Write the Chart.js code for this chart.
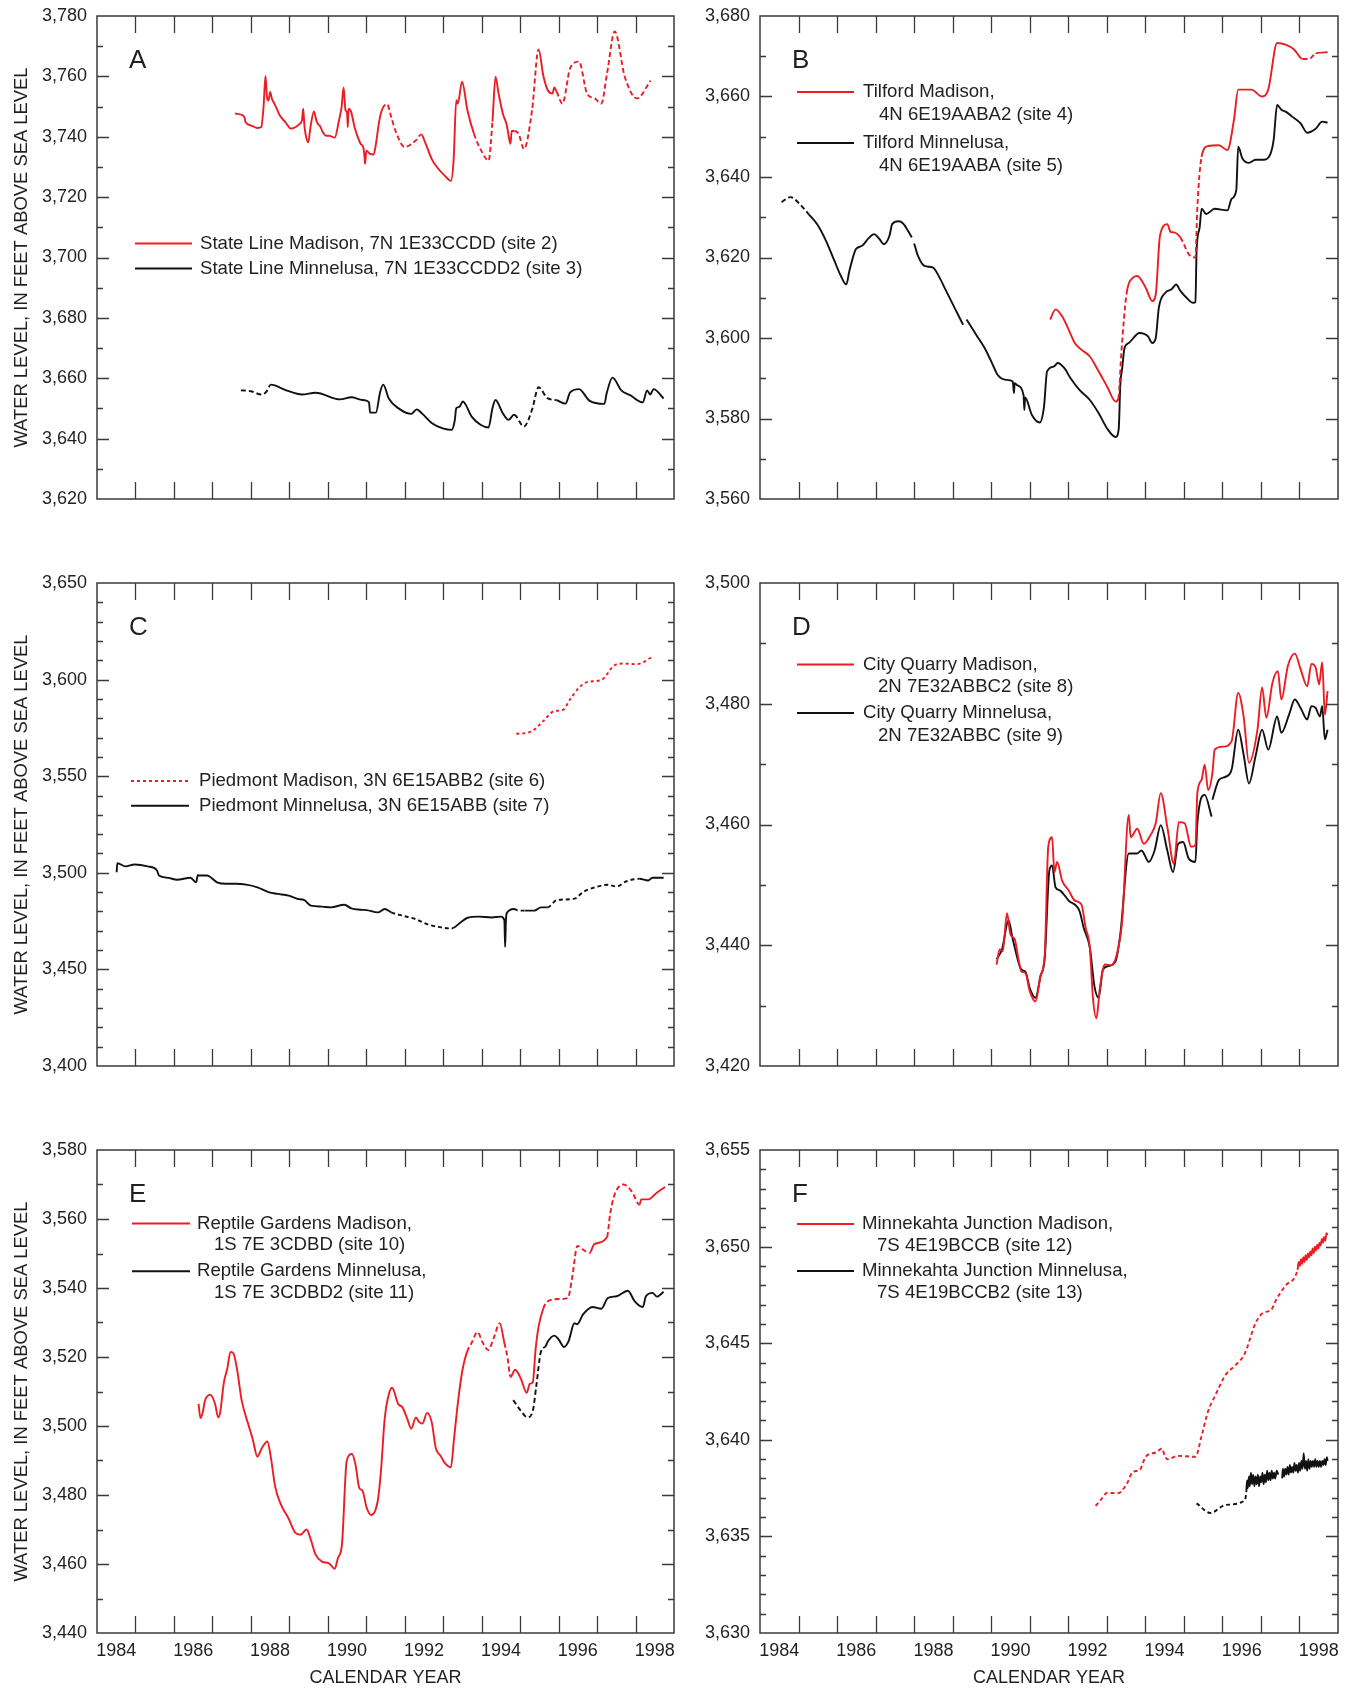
<!DOCTYPE html>
<html>
<head>
<meta charset="utf-8">
<title>Water levels, Madison and Minnelusa wells</title>
<script src="https://cdn.jsdelivr.net/npm/chart.js@4.4.1/dist/chart.umd.min.js"></script>
<style>
  html, body { margin: 0; padding: 0; background: #ffffff; }
  body { width: 1353px; height: 1689px; position: relative; overflow: hidden; }
  canvas { position: absolute; }
</style>
</head>
<body>
<canvas id="panelA"></canvas>
<canvas id="panelB"></canvas>
<canvas id="panelC"></canvas>
<canvas id="panelD"></canvas>
<canvas id="panelE"></canvas>
<canvas id="panelF"></canvas>
<script>
// ---------------- Data: [decimal year, water level (ft above sea level)] ----------------
const yearLabels = [1984, 1986, 1988, 1990, 1992, 1994, 1996, 1998];
const yearTicks = [1985, 1986, 1987, 1988, 1989, 1990, 1991, 1992, 1993, 1994, 1995, 1996, 1997, 1998];

// A — State Line
const stateLineMadison = [[1987.59,3747.7],[1987.8,3747.0],[1987.84,3746.2],[1987.86,3744.9],[1988.0,3743.8],[1988.17,3742.9],[1988.27,3743.2],[1988.33,3750],[1988.38,3760.1],[1988.42,3753],[1988.46,3752],[1988.5,3754.8],[1988.55,3752.5],[1988.62,3750.8],[1988.75,3747.1],[1988.9,3744.8],[1989.04,3742.7],[1989.18,3743.3],[1989.27,3744.3],[1989.33,3745.5],[1989.36,3749.3],[1989.39,3744],[1989.42,3741],[1989.49,3738.2],[1989.55,3743.2],[1989.64,3748.4],[1989.7,3745.5],[1989.74,3744.3],[1989.8,3743.5],[1989.87,3741.5],[1989.94,3740.4],[1990.05,3740.3],[1990.18,3739.7],[1990.29,3745.4],[1990.36,3750],[1990.41,3756.3],[1990.46,3748.8],[1990.5,3748],[1990.52,3743.2],[1990.54,3749.3],[1990.6,3748.5],[1990.7,3743],[1990.78,3739.9],[1990.86,3737.5],[1990.92,3736.6],[1990.95,3734],[1990.97,3731],[1991.0,3735.4],[1991.1,3734.3],[1991.19,3734.1],[1991.25,3737.5],[1991.34,3745.4],[1991.42,3749.3],[1991.54,3750.8],[1991.65,3746.5],[1991.77,3741.6],[1992.0,3736.6],[1992.29,3738.8],[1992.43,3740.8],[1992.52,3738.5],[1992.7,3732.7],[1992.81,3730.4],[1993.04,3727.1],[1993.2,3725.4],[1993.27,3732.1],[1993.34,3752.1],[1993.38,3751],[1993.49,3758.2],[1993.63,3748.8],[1993.8,3741],[1994.01,3734.9],[1994.18,3732.1],[1994.28,3745],[1994.36,3759.9],[1994.44,3754.3],[1994.55,3747.7],[1994.65,3744],[1994.72,3739],[1994.75,3737.7],[1994.78,3741.9],[1994.85,3741.9],[1994.96,3741],[1995.1,3736],[1995.31,3748.8],[1995.48,3769],[1995.6,3760.4],[1995.72,3755.4],[1995.84,3754.3],[1995.89,3756.3],[1995.95,3754.9],[1996.1,3751],[1996.3,3762.7],[1996.53,3764.9],[1996.74,3754.3],[1996.94,3752.7],[1997.11,3751],[1997.26,3761],[1997.46,3774.9],[1997.72,3759.9],[1998.04,3752.7],[1998.39,3758.6]];
const stateLineMadisonEstimated = [[1991.45,1992.42],[1993.74,1994.28],[1994.9,1995.46],[1995.96,1998.5]];
const stateLineMinnelusa = [[1987.74,3656],[1988.0,3655.7],[1988.28,3654.6],[1988.4,3655.5],[1988.52,3657.9],[1988.92,3656],[1989.33,3654.6],[1989.68,3655.2],[1990.32,3653],[1990.61,3653.7],[1990.9,3652.8],[1991.07,3652.1],[1991.1,3648.6],[1991.25,3648.6],[1991.36,3655.4],[1991.44,3657.9],[1991.59,3653.2],[1991.83,3650.1],[1992.17,3648.2],[1992.31,3649.7],[1992.46,3648.2],[1992.7,3645.2],[1992.99,3643.4],[1993.22,3642.9],[1993.3,3646],[1993.34,3650.1],[1993.42,3650.5],[1993.51,3652.3],[1993.74,3647.3],[1993.97,3644.6],[1994.18,3643.7],[1994.28,3650.1],[1994.36,3652.8],[1994.55,3648.4],[1994.7,3646.2],[1994.84,3647.9],[1995.1,3644],[1995.31,3649.6],[1995.48,3657],[1995.71,3653.4],[1995.95,3652.7],[1996.18,3651.6],[1996.3,3655.3],[1996.53,3656.4],[1996.8,3652.6],[1997.19,3651.5],[1997.25,3655],[1997.4,3660.2],[1997.63,3656],[1997.86,3654.4],[1998.19,3652],[1998.3,3656],[1998.38,3654.6],[1998.47,3656.4],[1998.73,3653.3]];
const stateLineMinnelusaEstimated = [[1987.7,1988.5],[1994.85,1995.95]];

// B — Tilford
const tilfordMadison = [[1991.53,3604.6],[1991.67,3607.1],[1991.84,3605.4],[1992.01,3602.1],[1992.17,3598.75],[1992.34,3597.1],[1992.56,3595.4],[1992.79,3591.7],[1993.01,3587.9],[1993.23,3584.2],[1993.3,3585],[1993.38,3596.7],[1993.51,3610.8],[1993.68,3615],[1993.79,3615.4],[1994.01,3612.5],[1994.18,3609.2],[1994.27,3610.8],[1994.38,3625.4],[1994.57,3628.3],[1994.66,3626.3],[1994.74,3626.25],[1994.91,3625],[1995.13,3620.8],[1995.3,3620],[1995.35,3632.5],[1995.46,3645],[1995.63,3647.7],[1995.91,3647.9],[1996.13,3646.7],[1996.3,3654.2],[1996.41,3661.7],[1996.75,3661.7],[1997.03,3660],[1997.19,3661.7],[1997.42,3673.3],[1997.64,3672.9],[1997.86,3671.7],[1998.08,3669.3],[1998.25,3669.3],[1998.42,3670.7],[1998.73,3671]];
const tilfordMadisonEstimated = [[1993.3,1993.52],[1995.0,1995.5],[1998.05,1998.4]];
const tilfordMinnelusa = [[1984.56,3633.75],[1984.79,3635],[1985.04,3633.2],[1985.26,3630.8],[1985.48,3628.3],[1985.71,3624.2],[1985.93,3619.2],[1986.1,3615.4],[1986.24,3613.3],[1986.32,3616.7],[1986.4,3619.6],[1986.49,3622.1],[1986.65,3622.9],[1986.82,3624.8],[1986.96,3625.8],[1987.1,3624.6],[1987.21,3623.3],[1987.36,3625.4],[1987.43,3628.3],[1987.6,3629],[1987.71,3628.5],[1987.94,3625],[1987.97,null],[1988.0,3623.5],[1988.1,3620.4],[1988.27,3617.9],[1988.49,3617.5],[1988.66,3615],[1988.83,3611.7],[1989.05,3607.5],[1989.27,3603.3],[1989.31,null],[1989.36,3604.6],[1989.61,3600.8],[1989.83,3597.5],[1990.0,3594.2],[1990.17,3590.8],[1990.39,3589.6],[1990.56,3589.2],[1990.59,3586.3],[1990.61,3588.8],[1990.67,3588.3],[1990.84,3585.8],[1990.86,3582.1],[1990.88,3585.2],[1991.06,3580.8],[1991.26,3579],[1991.37,3582.9],[1991.45,3591.7],[1991.62,3592.9],[1991.73,3593.8],[1991.9,3592.5],[1992.06,3590],[1992.29,3587.1],[1992.56,3584.6],[1992.79,3581.3],[1993.01,3577.5],[1993.23,3575.4],[1993.31,3577.5],[1993.35,3588.3],[1993.4,3592.5],[1993.46,3597.5],[1993.57,3598.75],[1993.85,3601.25],[1994.07,3600.4],[1994.18,3598.75],[1994.27,3600],[1994.35,3607.5],[1994.52,3611.25],[1994.68,3612.1],[1994.8,3613.3],[1994.91,3611.7],[1995.07,3610],[1995.24,3608.75],[1995.3,3608.9],[1995.33,3621.7],[1995.41,3627.5],[1995.46,3632.1],[1995.58,3630.8],[1995.8,3632.1],[1996.13,3631.7],[1996.24,3634.6],[1996.36,3636.7],[1996.41,3647.5],[1996.52,3644.6],[1996.69,3643.5],[1996.86,3644.3],[1997.08,3644.3],[1997.25,3645.8],[1997.33,3649.2],[1997.42,3657.9],[1997.53,3656.7],[1997.64,3656.25],[1997.81,3655],[1998.03,3653.3],[1998.2,3651],[1998.42,3652],[1998.59,3653.75],[1998.73,3653.5]];
const tilfordMinnelusaEstimated = [[1984.5,1985.2]];

// C — Piedmont
const piedmontMadison = [[1994.9,3571.9],[1995.31,3573.3],[1995.6,3578.5],[1995.89,3583.7],[1996.1,3584.2],[1996.3,3589.8],[1996.53,3595.8],[1996.76,3598.8],[1997.11,3599.8],[1997.46,3607.5],[1997.69,3608.3],[1998.04,3608],[1998.44,3611.8]];
const piedmontMadisonEstimated = [[1994.8,1998.6]];
const piedmontMinnelusa = [[1984.51,3500.3],[1984.53,3505],[1984.74,3503.3],[1984.98,3504.3],[1985.32,3503.3],[1985.56,3501.2],[1985.61,3498.6],[1985.85,3497.4],[1986.08,3496.4],[1986.43,3497.4],[1986.58,3495.1],[1986.62,3498.8],[1986.66,3498.6],[1986.86,3498.6],[1987.12,3495.1],[1987.36,3494.3],[1987.59,3494.3],[1987.88,3493.9],[1988.17,3492.5],[1988.46,3490],[1988.69,3489.1],[1988.98,3488.2],[1989.21,3486.5],[1989.39,3485.9],[1989.56,3483],[1989.85,3482.5],[1990.08,3482.1],[1990.43,3483.5],[1990.61,3481.6],[1990.84,3480.9],[1991.01,3480.7],[1991.3,3479.5],[1991.48,3481.3],[1991.65,3479.5],[1991.94,3477.8],[1992.29,3476],[1992.58,3473.4],[1992.87,3472],[1993.22,3471.2],[1993.45,3474.3],[1993.62,3476.6],[1993.92,3477.3],[1994.26,3476.9],[1994.5,3477.3],[1994.59,3475.5],[1994.61,3461.6],[1994.63,3475],[1994.65,3479.1],[1994.84,3481.3],[1994.96,3480.4],[1995.13,3480.4],[1995.37,3480.4],[1995.54,3482.1],[1995.71,3482.1],[1995.95,3485.8],[1996.41,3486.6],[1996.64,3490.1],[1996.93,3492.4],[1997.28,3493.8],[1997.51,3492.9],[1997.75,3495.5],[1998.1,3496.9],[1998.33,3496],[1998.44,3497.4],[1998.73,3497.4]];
const piedmontMinnelusaEstimated = [[1991.6,1993.25],[1994.9,1995.15],[1995.65,1998.1]];

// D — City Quarry
const cityQuarryMadison = [[1990.14,3436.8],[1990.22,3439.3],[1990.3,3439],[1990.41,3445.3],[1990.5,3441.8],[1990.61,3441],[1990.7,3438],[1990.78,3435.7],[1990.89,3435.4],[1991.0,3432.4],[1991.15,3430.7],[1991.28,3434.9],[1991.39,3438.5],[1991.48,3456.3],[1991.58,3457.9],[1991.64,3452.1],[1991.71,3453.8],[1991.84,3450.7],[1992.01,3449.1],[1992.17,3447.4],[1992.34,3446.8],[1992.45,3442.9],[1992.56,3439.6],[1992.64,3431.3],[1992.73,3427.9],[1992.82,3432.9],[1992.95,3436.8],[1993.12,3436.7],[1993.29,3439.3],[1993.4,3444.1],[1993.57,3461.6],[1993.62,3457.9],[1993.79,3459.3],[1993.96,3456.8],[1994.13,3458.2],[1994.27,3460.2],[1994.4,3465.2],[1994.57,3459.6],[1994.74,3453.5],[1994.87,3460.4],[1995.02,3460.2],[1995.19,3456.3],[1995.3,3456.6],[1995.35,3465.2],[1995.46,3467.4],[1995.54,3469.9],[1995.63,3465.7],[1995.74,3468.5],[1995.8,3472.4],[1996.02,3472.9],[1996.24,3473.8],[1996.41,3481.8],[1996.55,3477.9],[1996.69,3470.2],[1996.91,3475.7],[1997.03,3482.7],[1997.14,3477.7],[1997.3,3483.5],[1997.44,3485.4],[1997.53,3480.7],[1997.7,3486.3],[1997.88,3488.3],[1998.03,3485.7],[1998.2,3482.9],[1998.31,3486.6],[1998.42,3486],[1998.51,3483.2],[1998.59,3486.9],[1998.66,3478.2],[1998.73,3482.1]];
const cityQuarryMinnelusa = [[1990.14,3437.7],[1990.28,3439.3],[1990.45,3444.1],[1990.56,3441],[1990.78,3436],[1990.89,3435.6],[1991.0,3432.9],[1991.15,3431.3],[1991.28,3434.9],[1991.39,3437.9],[1991.51,3452.4],[1991.58,3453.2],[1991.67,3449.6],[1991.78,3449.1],[1992.01,3447.4],[1992.29,3445.7],[1992.4,3442.9],[1992.56,3439.6],[1992.68,3433.2],[1992.79,3431.3],[1992.9,3436],[1993.07,3436.6],[1993.23,3437.4],[1993.35,3441.8],[1993.57,3455.2],[1993.79,3455.2],[1993.9,3455.7],[1994.09,3453.8],[1994.24,3455.7],[1994.4,3459.9],[1994.57,3455.7],[1994.72,3452.1],[1994.85,3456.8],[1994.98,3457.1],[1995.13,3454.3],[1995.3,3453.8],[1995.35,3460.2],[1995.54,3464.9],[1995.72,3461.3],[1995.73,null],[1995.74,3464.1],[1995.91,3467.4],[1996.08,3467.9],[1996.24,3469.1],[1996.41,3475.7],[1996.55,3471.6],[1996.69,3466.8],[1996.86,3471.3],[1997.03,3475.7],[1997.19,3472.4],[1997.42,3477.9],[1997.53,3475.2],[1997.73,3478.2],[1997.88,3480.7],[1998.03,3479.3],[1998.2,3477.4],[1998.31,3479.6],[1998.42,3479.3],[1998.53,3477.9],[1998.59,3479.6],[1998.66,3474.1],[1998.73,3475.7]];

// E — Reptile Gardens
const reptileGardensMadison = [[1986.64,3506.4],[1986.69,3502.3],[1986.75,3504],[1986.81,3507.5],[1986.95,3509],[1987.07,3506.4],[1987.15,3502.5],[1987.2,3503.8],[1987.3,3512.7],[1987.39,3516.8],[1987.47,3521.5],[1987.55,3521],[1987.65,3515.8],[1987.76,3507.5],[1987.94,3500.2],[1988.05,3496.1],[1988.17,3491.1],[1988.28,3493.5],[1988.43,3495.5],[1988.52,3490.9],[1988.63,3482.5],[1988.78,3477.3],[1988.98,3473.2],[1989.16,3469],[1989.29,3468.5],[1989.45,3470],[1989.56,3467],[1989.68,3462.8],[1989.85,3460.7],[1990.03,3460.2],[1990.18,3458.6],[1990.26,3461.6],[1990.37,3465.9],[1990.49,3489.8],[1990.63,3491.9],[1990.72,3488.8],[1990.82,3482],[1990.9,3481.3],[1991.01,3476.3],[1991.13,3474.2],[1991.3,3478.4],[1991.38,3486.7],[1991.48,3502.3],[1991.57,3508.5],[1991.67,3511.1],[1991.83,3506.4],[1991.94,3505.4],[1992.06,3502.3],[1992.17,3499.2],[1992.29,3502.5],[1992.37,3501.2],[1992.46,3500.7],[1992.58,3503.8],[1992.7,3501.2],[1992.81,3493.5],[1992.93,3491.4],[1993.04,3489.3],[1993.2,3488],[1993.28,3496.1],[1993.39,3507.5],[1993.51,3516.8],[1993.62,3521.5],[1993.74,3524.1],[1993.89,3527.2],[1994.03,3524.1],[1994.17,3522],[1994.32,3525.7],[1994.47,3529.8],[1994.59,3524.1],[1994.67,3520],[1994.75,3514.2],[1994.87,3516.3],[1995.02,3513.7],[1995.17,3509.6],[1995.25,3512.2],[1995.33,3512.7],[1995.4,3522],[1995.48,3528.8],[1995.6,3534],[1995.71,3536.1],[1996.0,3536.8],[1996.24,3537.1],[1996.35,3542.8],[1996.49,3552.2],[1996.64,3551.1],[1996.8,3550.1],[1996.93,3552.7],[1997.26,3554.8],[1997.34,3561.5],[1997.46,3567.2],[1997.69,3570],[1997.92,3567.7],[1998.1,3564.1],[1998.15,3565.7],[1998.33,3565.7],[1998.56,3567.7],[1998.77,3569.3]];
const reptileGardensMadisonEstimated = [[1993.6,1994.4],[1994.58,1994.8],[1995.6,1996.75],[1997.3,1998.12]];
const reptileGardensMinnelusa = [[1994.82,3507.5],[1995.02,3504.4],[1995.19,3502.5],[1995.33,3504.4],[1995.42,3511.6],[1995.54,3521.5],[1995.66,3523.1],[1995.72,3524.5],[1995.89,3526.2],[1996.0,3525.1],[1996.14,3522.9],[1996.26,3524.6],[1996.41,3529.8],[1996.48,3529.5],[1996.64,3532.4],[1996.88,3534.5],[1997.11,3534],[1997.28,3537.1],[1997.51,3537.6],[1997.8,3539.2],[1997.98,3536.1],[1998.19,3534.5],[1998.27,3537.6],[1998.44,3538.6],[1998.56,3537.5],[1998.73,3538.9]];
const reptileGardensMinnelusaEstimated = [[1994.8,1995.65]];

// F — Minnekahta Junction
const minnekahtaMadison = [[1992.71,3636.58],[1992.85,3636.9],[1993.01,3637.26],[1993.29,3637.23],[1993.51,3637.69],[1993.68,3638.34],[1993.85,3638.43],[1994.01,3639.12],[1994.29,3639.36],[1994.43,3639.55],[1994.5,3639.2],[1994.57,3638.99],[1994.85,3639.17],[1995.3,3639.12],[1995.46,3640.2],[1995.63,3641.49],[1995.8,3642.24],[1996.08,3643.35],[1996.36,3643.9],[1996.58,3644.46],[1996.86,3646.04],[1997.08,3646.6],[1997.25,3646.69],[1997.42,3647.34],[1997.64,3647.99],[1997.95,3648.8],[1997.98,3649.2],[1998.01,3649.0],[1998.04,3649.35],[1998.07,3649.1],[1998.1,3649.45],[1998.13,3649.2],[1998.16,3649.55],[1998.19,3649.3],[1998.22,3649.65],[1998.25,3649.45],[1998.28,3649.75],[1998.31,3649.55],[1998.34,3649.9],[1998.37,3649.65],[1998.4,3650.0],[1998.43,3649.8],[1998.46,3650.1],[1998.49,3649.9],[1998.52,3650.2],[1998.55,3650.05],[1998.58,3650.4],[1998.61,3650.2],[1998.64,3650.5],[1998.67,3650.3],[1998.7,3650.7],[1998.73,3650.6]];
const minnekahtaMadisonEstimated = [[1992.6,1997.95]];
const minnekahtaMinnelusa = [[1995.33,3636.71],[1995.69,3636.21],[1996.08,3636.63],[1996.58,3636.86],[1996.62,3637.3],[1996.64,3637.9],[1996.66,3637.5],[1996.69,3638.1],[1996.71,3637.6],[1996.74,3638.3],[1996.77,3637.7],[1996.8,3638.2],[1996.83,3637.6],[1996.86,3638.1],[1996.89,3637.7],[1996.92,3638.2],[1996.95,3637.6],[1996.98,3638.1],[1997.01,3637.8],[1997.04,3638.3],[1997.07,3637.7],[1997.1,3638.2],[1997.13,3637.8],[1997.16,3638.4],[1997.19,3637.9],[1997.22,3638.3],[1997.25,3637.9],[1997.28,3638.4],[1997.31,3638.0],[1997.34,3638.3],[1997.37,3638.0],[1997.41,3638.4],[1997.45,3638.2],[1997.5,null],[1997.55,3638.0],[1997.57,3638.5],[1997.6,3638.1],[1997.63,3638.5],[1997.66,3638.2],[1997.69,3638.6],[1997.72,3638.2],[1997.75,3638.7],[1997.78,3638.3],[1997.81,3638.6],[1997.84,3638.3],[1997.87,3638.8],[1997.9,3638.4],[1997.93,3638.7],[1997.96,3638.3],[1997.99,3638.8],[1998.02,3638.4],[1998.05,3638.9],[1998.08,3638.5],[1998.11,3639.3],[1998.14,3638.5],[1998.17,3638.9],[1998.2,3638.4],[1998.23,3639.0],[1998.26,3638.5],[1998.29,3638.9],[1998.32,3638.6],[1998.35,3638.9],[1998.38,3638.6],[1998.41,3639.0],[1998.44,3638.6],[1998.47,3638.9],[1998.5,3638.6],[1998.53,3638.9],[1998.56,3638.6],[1998.59,3638.9],[1998.62,3638.7],[1998.65,3639.0],[1998.68,3638.7],[1998.71,3639.1],[1998.73,3638.9]];
const minnekahtaMinnelusaEstimated = [[1995.3,1996.6]];

// Legend labels
const legendA = [["State Line Madison, 7N 1E33CCDD (site 2)"], ["State Line Minnelusa, 7N 1E33CCDD2 (site 3)"]];
const legendB = [["Tilford Madison,", "4N 6E19AABA2 (site 4)"], ["Tilford Minnelusa,", "4N 6E19AABA (site 5)"]];
const legendC = [["Piedmont Madison, 3N 6E15ABB2 (site 6)"], ["Piedmont Minnelusa, 3N 6E15ABB (site 7)"]];
const legendD = [["City Quarry Madison,", "2N 7E32ABBC2 (site 8)"], ["City Quarry Minnelusa,", "2N 7E32ABBC (site 9)"]];
const legendE = [["Reptile Gardens Madison,", "1S 7E 3CDBD (site 10)"], ["Reptile Gardens Minnelusa,", "1S 7E 3CDBD2 (site 11)"]];
const legendF = [["Minnekahta Junction Madison,", "7S 4E19BCCB (site 12)"], ["Minnekahta Junction Minnelusa,", "7S 4E19BCCB2 (site 13)"]];

// ---------------- Styling ----------------
const RED = '#ec1c24';
const BLACK = '#111111';
const INK = '#231f20';
const FRAME = '#3a3a3a';
const FONT = "'Liberation Sans', Arial, Helvetica, sans-serif";
const DASH = [5, 3];
const DOT = [3, 3];

const fmtThousands = v => String(Math.round(v)).replace(/\B(?=(\d{3})+(?!\d))/g, ',');
const inSpans = (spans, x) => spans.some(([a, b]) => x >= a && x <= b);

// Solid line; segments inside the "estimated" spans are drawn with the given dash
function lineDataset(label, pairs, color, spans, spanDash) {
  const dash = spanDash || DASH;
  return {
    label,
    data: pairs.map(([x, y]) => ({ x, y })),
    borderColor: color,
    borderWidth: 1.9,
    borderDash: [],
    pointRadius: 0,
    cubicInterpolationMode: 'monotone',
    spanGaps: false,
    segment: {
      borderDash: ctx => (spans && inSpans(spans, (ctx.p0.parsed.x + ctx.p1.parsed.x) / 2)) ? dash : []
    }
  };
}

// Panel letter, legend, frame and inward tick marks
const panelDecor = {
  id: 'panelDecor',
  afterDraw(chart, args, opts) {
    const { ctx, chartArea: a, scales: { x, y } } = chart;
    ctx.save();
    ctx.strokeStyle = FRAME;
    ctx.lineWidth = 1.5;
    ctx.strokeRect(a.left, a.top, a.right - a.left, a.bottom - a.top);
    ctx.lineWidth = 1.3;
    ctx.beginPath();
    yearTicks.forEach(yr => {
      const px = Math.round(x.getPixelForValue(yr)) + 0.5;
      ctx.moveTo(px, a.top); ctx.lineTo(px, a.top + 17);
      ctx.moveTo(px, a.bottom); ctx.lineTo(px, a.bottom - 17);
    });
    for (let v = opts.yMin + opts.yMinor; v < opts.yMax - 1e-9; v += opts.yMinor) {
      const major = Math.abs(Math.round(v / opts.yMajor) * opts.yMajor - v) < 1e-6;
      const len = major ? 12 : 6;
      const py = Math.round(y.getPixelForValue(v)) + 0.5;
      ctx.moveTo(a.left, py); ctx.lineTo(a.left + len, py);
      ctx.moveTo(a.right, py); ctx.lineTo(a.right - len, py);
    }
    ctx.stroke();

    ctx.fillStyle = INK;
    ctx.font = `26px ${FONT}`;
    ctx.textBaseline = 'middle';
    ctx.textAlign = 'left';
    ctx.fillText(opts.letter, a.left + 32, a.top + 45);

    const L = opts.legend;
    ctx.font = `18.6px ${FONT}`;
    opts.entries.forEach((entry, i) => {
      const yy = a.top + L.rows[i];
      ctx.save();
      ctx.strokeStyle = entry.color;
      ctx.lineWidth = 2;
      ctx.setLineDash(entry.dash || []);
      ctx.beginPath();
      ctx.moveTo(a.left + L.lineX[0], yy);
      ctx.lineTo(a.left + L.lineX[1], yy);
      ctx.stroke();
      ctx.restore();
      entry.lines.forEach((t, j) => {
        ctx.fillText(t, a.left + L.textX + (j ? L.indent : 0), yy + j * L.gap);
      });
    });
    ctx.restore();
  }
};

// ---------------- Panels ----------------
const panels = [
  { id: 'panelA', col: 0, row: 0, letter: 'A', yMin: 3620, yMax: 3780, yMajor: 20, yMinor: 10,
    datasets: [lineDataset('State Line Madison', stateLineMadison, RED, stateLineMadisonEstimated),
               lineDataset('State Line Minnelusa', stateLineMinnelusa, BLACK, stateLineMinnelusaEstimated)],
    entries: [{ color: RED, lines: legendA[0] }, { color: BLACK, lines: legendA[1] }],
    legend: { lineX: [38, 95], textX: 103, rows: [227.6, 252.6], gap: 22.5, indent: 16 } },
  { id: 'panelB', col: 1, row: 0, letter: 'B', yMin: 3560, yMax: 3680, yMajor: 20, yMinor: 10,
    datasets: [lineDataset('Tilford Madison', tilfordMadison, RED, tilfordMadisonEstimated),
               lineDataset('Tilford Minnelusa', tilfordMinnelusa, BLACK, tilfordMinnelusaEstimated)],
    entries: [{ color: RED, lines: legendB[0] }, { color: BLACK, lines: legendB[1] }],
    legend: { lineX: [37, 94], textX: 103, rows: [76, 127], gap: 22.8, indent: 16 } },
  { id: 'panelC', col: 0, row: 1, letter: 'C', yMin: 3400, yMax: 3650, yMajor: 50, yMinor: 10,
    datasets: [lineDataset('Piedmont Madison', piedmontMadison, RED, piedmontMadisonEstimated, DOT),
               lineDataset('Piedmont Minnelusa', piedmontMinnelusa, BLACK, piedmontMinnelusaEstimated, [4, 3])],
    entries: [{ color: RED, dash: DOT, lines: legendC[0] }, { color: BLACK, lines: legendC[1] }],
    legend: { lineX: [34, 92], textX: 102, rows: [198, 222.7], gap: 22.5, indent: 16 } },
  { id: 'panelD', col: 1, row: 1, letter: 'D', yMin: 3420, yMax: 3500, yMajor: 20, yMinor: 10,
    datasets: [lineDataset('City Quarry Madison', cityQuarryMadison, RED, null),
               lineDataset('City Quarry Minnelusa', cityQuarryMinnelusa, BLACK, null)],
    entries: [{ color: RED, lines: legendD[0] }, { color: BLACK, lines: legendD[1] }],
    legend: { lineX: [37, 94], textX: 103, rows: [81.5, 130], gap: 22.5, indent: 15 } },
  { id: 'panelE', col: 0, row: 2, letter: 'E', yMin: 3440, yMax: 3580, yMajor: 20, yMinor: 10,
    datasets: [lineDataset('Reptile Gardens Madison', reptileGardensMadison, RED, reptileGardensMadisonEstimated),
               lineDataset('Reptile Gardens Minnelusa', reptileGardensMinnelusa, BLACK, reptileGardensMinnelusaEstimated)],
    entries: [{ color: RED, lines: legendE[0] }, { color: BLACK, lines: legendE[1] }],
    legend: { lineX: [35, 93], textX: 100, rows: [73.5, 121.3], gap: 21.7, indent: 17 } },
  { id: 'panelF', col: 1, row: 2, letter: 'F', yMin: 3630, yMax: 3655, yMajor: 5, yMinor: 1,
    datasets: [lineDataset('Minnekahta Junction Madison', minnekahtaMadison, RED, minnekahtaMadisonEstimated, [4, 3]),
               lineDataset('Minnekahta Junction Minnelusa', minnekahtaMinnelusa, BLACK, minnekahtaMinnelusaEstimated, [4, 3])],
    entries: [{ color: RED, lines: legendF[0] }, { color: BLACK, lines: legendF[1] }],
    legend: { lineX: [37, 94], textX: 102, rows: [74, 121], gap: 21.7, indent: 15 } }
];

// canvas geometry for the 2 x 3 grid (plot areas start 24px below each canvas top)
const PLOT_TOP_PAD = 24;
const PLOT_HEIGHT = 483;
const colGeom = [
  { left: 0, width: 690, axisWidth: 97, padRight: 16 },
  { left: 690, width: 663, axisWidth: 70, padRight: 15 }
];
const rowGeom = [
  { top: 16 - PLOT_TOP_PAD, height: 567, bottomAxis: false },
  { top: 583 - PLOT_TOP_PAD, height: 567, bottomAxis: false },
  { top: 1150 - PLOT_TOP_PAD, height: 1689 - (1150 - PLOT_TOP_PAD), bottomAxis: true }
];

panels.forEach(p => {
  const cg = colGeom[p.col], rg = rowGeom[p.row];
  const canvas = document.getElementById(p.id);
  canvas.width = cg.width; canvas.height = rg.height;
  canvas.style.left = cg.left + 'px'; canvas.style.top = rg.top + 'px';
  canvas.style.width = cg.width + 'px'; canvas.style.height = rg.height + 'px';
  const xAxisHeight = rg.height - PLOT_TOP_PAD - PLOT_HEIGHT;

  new Chart(canvas, {
    type: 'line',
    data: { datasets: p.datasets },
    options: {
      responsive: false,
      animation: false,
      devicePixelRatio: 1,
      layout: { padding: { top: PLOT_TOP_PAD, right: cg.padRight, left: 0, bottom: 0 } },
      plugins: {
        legend: { display: false },
        tooltip: { enabled: false },
        panelDecor: { letter: p.letter, yMin: p.yMin, yMax: p.yMax, yMajor: p.yMajor, yMinor: p.yMinor,
                      entries: p.entries, legend: p.legend }
      },
      scales: {
        x: {
          type: 'linear', min: 1984, max: 1999,
          grid: { display: false, drawTicks: false }, border: { display: false },
          afterBuildTicks: s => { s.ticks = yearLabels.map(v => ({ value: v + 0.5 })); },
          ticks: { display: rg.bottomAxis, autoSkip: false, maxRotation: 0, padding: 7,
                   color: INK, font: { family: FONT, size: 18 },
                   callback: v => String(Math.floor(v)) },
          title: { display: rg.bottomAxis, text: 'CALENDAR YEAR', color: INK,
                   font: { family: FONT, size: 18 }, padding: { top: 1, bottom: 0 } },
          afterFit: s => { s.height = xAxisHeight; }
        },
        y: {
          type: 'linear', min: p.yMin, max: p.yMax,
          grid: { display: false, drawTicks: false }, border: { display: false },
          ticks: { stepSize: p.yMajor, padding: 10, color: INK, font: { family: FONT, size: 18 },
                   callback: v => fmtThousands(v) },
          title: { display: p.col === 0, text: 'WATER LEVEL, IN FEET ABOVE SEA LEVEL', color: INK,
                   font: { family: FONT, size: 18.4 }, padding: { top: 10.5, bottom: 0 } },
          afterFit: s => { s.width = cg.axisWidth; }
        }
      }
    },
    plugins: [panelDecor]
  });
});
</script>
</body>
</html>
